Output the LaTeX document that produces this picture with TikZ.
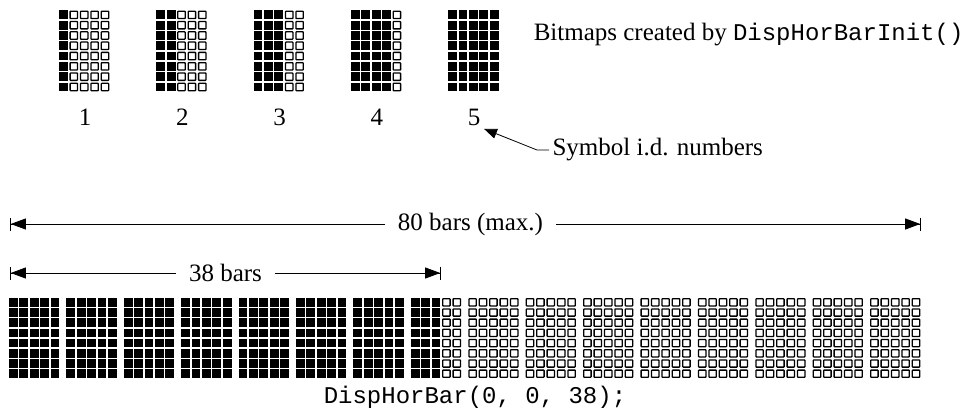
\documentclass[tikz,border=0pt]{standalone}
\usepackage{fontspec}
\setmainfont{Liberation Serif}
\setmonofont{Liberation Mono}
\usetikzlibrary{arrows.meta}

\begin{document}
\begin{tikzpicture}[x=1pt,y=-1pt,
    off/.style={draw=black,line width=1.3pt,rounded corners=0.6pt},
    dimline/.style={line width=0.8pt,
      {Bar[width=13pt]Triangle[length=15pt,width=11pt]}-{Triangle[length=15pt,width=11pt]Bar[width=13pt]}},
    lbl/.style={font=\fontsize{25}{28}\selectfont},
    code/.style={font=\fontsize{24}{27}\selectfont\ttfamily},
    dimtext/.style={lbl,fill=white,inner sep=2pt,inner xsep=13pt}]
  \useasboundingbox (0,0) rectangle (969,409);
  % the five bitmaps, column k filled in bitmap k
  \foreach \k in {1,...,5} {
    \pgfmathsetmacro\bx{59+(\k-1)*97.3}
    \begin{scope}[shift={(\bx,10.5)}]
      \foreach \r in {0,...,7}
        \foreach \c in {0,...,4} {
          \ifnum\c<\k
            \fill (\c*10.4,\r*10.3) rectangle ++(8.8,8.8);
          \else
            \draw[off] (\c*10.4+0.7,\r*10.3+0.7) rectangle ++(7.4,7.4);
          \fi
        }
    \end{scope}
    \node[lbl] (n\k) at (\bx+26,117) {\k};
  }
  \node[lbl,anchor=east] (cap) at (967,35)
    {Bitmaps created by {\fontsize{24}{27}\selectfont\ttfamily DispHorBarInit()}};
  % symbol numbers callout
  \node[lbl,anchor=west] (sym) at (549,150) {Symbol i.d. numbers};
  \coordinate (bend) at (537,150);
  \draw[line width=0.8pt,-{Triangle[length=13pt,width=10pt]}] (sym.west) -- (bend) -- (n5.south east);
  % dimension lines
  \coordinate (l80) at (10,224);
  \coordinate (r80) at (921,224);
  \draw[dimline] (l80) -- node[dimtext,xshift=5pt] (t80) {80 bars (max.)} (r80);
  \coordinate (l38) at (10,273);
  \coordinate (r38) at (441,273);
  \draw[dimline] (l38) -- node[dimtext] (t38) {38 bars} (r38);
  % the bar graph: 16 groups of 5 bars
  \foreach \g in {0,...,15}
    \foreach \c in {0,...,4} {
      \pgfmathtruncatemacro\idx{\g*5+\c}
      \foreach \r in {0,...,7} {
        \ifnum\idx<38
          \fill (9+\g*57.4+\c*10.4,298+\r*10.2) rectangle ++(8.8,8.6);
        \else
          \draw[off] (9+\g*57.4+\c*10.4+0.7,298+\r*10.2+0.7) rectangle ++(7.4,7.2);
        \fi
      }
    }
  \node[code] (call) at (475,397) {DispHorBar(0, 0, 38);};
\end{tikzpicture}
\end{document}
